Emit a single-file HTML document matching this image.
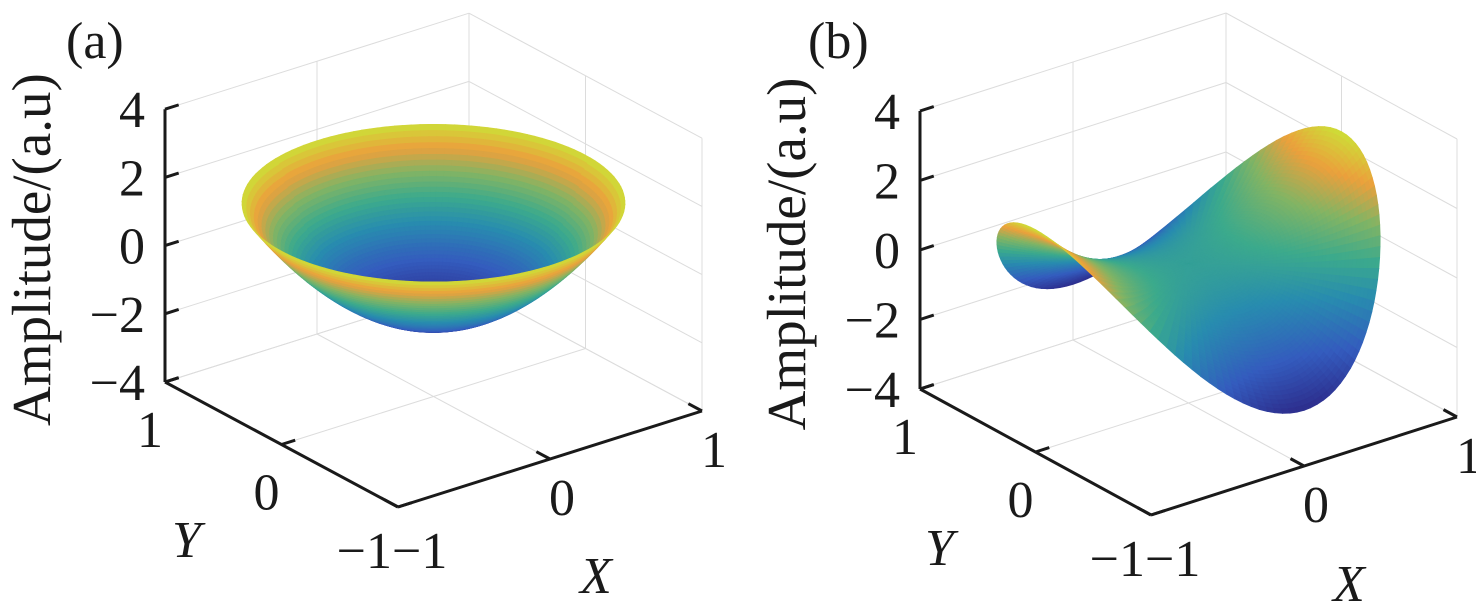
<!DOCTYPE html>
<html><head><meta charset="utf-8"><style>
html,body{margin:0;padding:0;background:#fff;}
svg{display:block;font-family:"Liberation Serif",serif;}
</style></head><body>
<svg id="fig" width="1476" height="604" viewBox="0 0 1476 604">
<g id="panelA"></g>
<g id="panelB"></g>
</svg>
<script>
const zTicks = [4, 2, 0, -2, -4];
const xTicks = [-1, 0, 1];
const yTicks = [-1, 0, 1];
const bowlCoef = [-1.73, 3.4];   // z = c0 + c1*r^2
const saddleCoef = [2.4];        // z = c0*(x^2 - y^2)
const panelLabels = ["(a)", "(b)"];

const NS = "http://www.w3.org/2000/svg";
function mk(tag, attrs, parent){const e=document.createElementNS(NS,tag);for(const k in attrs)e.setAttribute(k,attrs[k]);parent.appendChild(e);return e;}

const cmap=[[0,[45,45,140]],[0.2,[52,92,190]],[0.4,[40,140,175]],[0.55,[60,170,140]],[0.7,[130,180,100]],[0.85,[235,160,60]],[1,[205,222,55]]];
function color(t){t=Math.max(0,Math.min(1,t));for(let i=1;i<cmap.length;i++){if(t<=cmap[i][0]){const a=cmap[i-1],b=cmap[i];const f=(t-a[0])/(b[0]-a[0]);return 'rgb('+a[1].map((v,j)=>Math.round(v+(b[1][j]-v)*f)).join(',')+')';}}return 'rgb(205,222,55)';}

function drawPanel(g, geo, fz, label, labelX){
  const P=(x,y,z)=>[geo.O[0]+(x+1)*geo.xv[0]+(y+1)*geo.yv[0], geo.O[1]+(x+1)*geo.xv[1]+(y+1)*geo.yv[1]+(z+4)*geo.zs];
  const line=(a,b,st,w,name)=>{const l=mk('line',{x1:a[0],y1:a[1],x2:b[0],y2:b[1],stroke:st,'stroke-width':w},g);return l;};
  const grid='#dcdcdc';
  zTicks.forEach(z=>{line(P(-1,1,z),P(1,1,z),grid,1,'grid-line-z');line(P(1,1,z),P(1,-1,z),grid,1,'grid-line-z');});
  xTicks.forEach(x=>{line(P(x,1,-4),P(x,1,4),grid,1,'grid-line-x');line(P(x,-1,-4),P(x,1,-4),grid,1,'grid-line-x');});
  yTicks.forEach(y=>{line(P(1,y,-4),P(1,y,4),grid,1,'grid-line-y');line(P(-1,y,-4),P(1,y,-4),grid,1,'grid-line-y');});
  const NR=50,NT=140,polys=[];
  const zs=[];
  for(let i=0;i<=NR;i++)for(let j=0;j<=NT;j++){const r=i/NR,t=j/NT*2*Math.PI;zs.push(fz(r*Math.cos(t),r*Math.sin(t)));}
  const zmin=Math.min(...zs),zmax=Math.max(...zs);
  for(let i=0;i<NR;i++)for(let j=0;j<NT;j++){
    const pts=[[i,j],[i+1,j],[i+1,j+1],[i,j+1]].map(([a,b])=>{const r=a/NR,t=b/NT*2*Math.PI;const x=r*Math.cos(t),y=r*Math.sin(t);return [x,y,fz(x,y)];});
    const c=pts.reduce((s,p)=>[s[0]+p[0]/4,s[1]+p[1]/4,s[2]+p[2]/4],[0,0,0]);
    const d=106.3*c[0]+138.7*c[1]-15.3*c[2];
    polys.push({pts,d,z:c[2]});
  }
  polys.sort((a,b)=>b.d-a.d);
  const sg=mk('g',{},g);
  
  
  polys.forEach(p=>{const col=color((p.z-zmin)/(zmax-zmin));
    const e=mk('polygon',{points:p.pts.map(q=>P(q[0],q[1],q[2]).map(v=>v.toFixed(1)).join(',')).join(' '),fill:col,stroke:col,'stroke-width':0.7},sg);
    
    });
  line(P(-1,1,4),P(-1,1,-4),'#1a1a1a',3,'z-axis');
  line(P(-1,1,-4),P(-1,-1,-4),'#1a1a1a',3,'y-axis');
  line(P(-1,-1,-4),P(1,-1,-4),'#1a1a1a',3,'x-axis');
  const tl=0.09, fs=52;
  zTicks.forEach(z=>{line(P(-1,1,z),P(-1+tl,1,z),'#1a1a1a',3,'z-tick');
    const p=P(-1,1,z);const t=mk('text',{x:p[0]-20,y:p[1]+18,'font-size':fs,'text-anchor':'end',fill:'#1a1a1a'},g);t.textContent=z<0?'\u2212'+(-z):String(z);
    });
  yTicks.forEach(y=>{line(P(-1,y,-4),P(-1+tl,y,-4),'#1a1a1a',3,'y-tick');
    const p=P(-1,y,-4);const t=mk('text',{x:p[0]-15,y:p[1]+65,'font-size':fs,'text-anchor':'middle',fill:'#1a1a1a'},g);
    if(y<0){t.setAttribute('x',p[0]-6);t.setAttribute('y',p[1]+61);t.setAttribute('text-anchor','end');}
    t.textContent=y<0?'\u2212'+(-y):String(y);
    });
  xTicks.forEach(x=>{line(P(x,-1,-4),P(x,-1+tl*1.3,-4),'#1a1a1a',3,'x-tick');
    const p=P(x,-1,-4);const t=mk('text',{x:p[0]+12,y:p[1]+56,'font-size':fs,'text-anchor':'middle',fill:'#1a1a1a'},g);
    if(x<0){t.setAttribute('x',p[0]-6);t.setAttribute('y',p[1]+61);t.setAttribute('text-anchor','start');}
    t.textContent=x<0?'\u2212'+(-x):String(x);
    });
  const o=geo.O;
  let t=mk('text',{x:o[0]-226,y:o[1]+50,'font-size':fs,'font-style':'italic',fill:'#1a1a1a'},g);t.textContent='Y';
  
  t=mk('text',{x:o[0]+182,y:o[1]+86,'font-size':fs,'font-style':'italic',fill:'#1a1a1a'},g);t.textContent='X';
  
  const zp=P(-1,1,0);
  t=mk('text',{x:0,y:0,'font-size':55,'text-anchor':'middle',fill:'#1a1a1a',transform:'translate('+(zp[0]-115)+','+(zp[1]+4)+') rotate(-90)'},g);t.textContent='Amplitude/(a.u)';
  
  t=mk('text',{x:labelX,y:58,'font-size':52,fill:'#1a1a1a'},g);t.textContent=label;
  
}
drawPanel(document.getElementById('panelA'),{O:[398,507],xv:[152,-48],yv:[-116.5,-62.5],zs:-34.1},(x,y)=>bowlCoef[0]+bowlCoef[1]*(x*x+y*y),panelLabels[0],66);
drawPanel(document.getElementById('panelB'),{O:[1151,515],xv:[153,-49],yv:[-115.5,-63],zs:-34.75},(x,y)=>saddleCoef[0]*(x*x-y*y),panelLabels[1],808);
</script>
</body></html>
